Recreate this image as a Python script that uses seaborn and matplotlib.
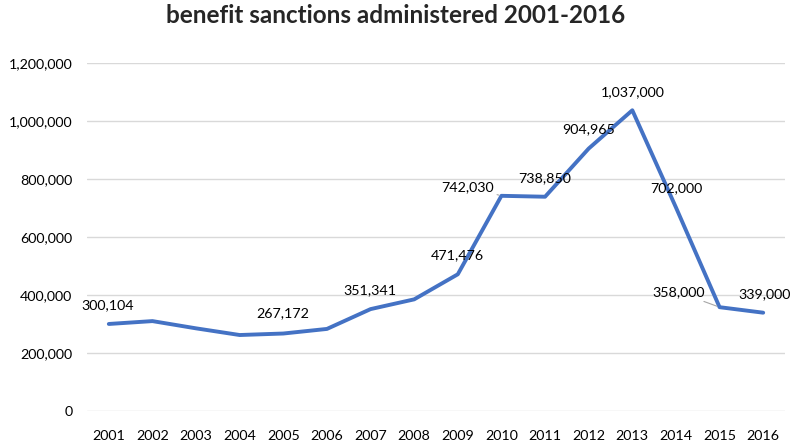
import numpy as np
import pandas as pd
import seaborn as sns
import matplotlib
matplotlib.use('Agg')
import matplotlib.pyplot as plt
from matplotlib.ticker import FuncFormatter

years = ['2001', '2002', '2003', '2004', '2005', '2006', '2007', '2008',
         '2009', '2010', '2011', '2012', '2013', '2014', '2015', '2016']
sanctions = [300104, 310000, 285000, 262000, 267172, 283000, 351341, 385000,
             471476, 742030, 738850, 904965, 1037000, 702000, 358000, 339000]
# only some points carry a label in the original
shown = [True, False, False, False, True, False, True, False,
         True, True, True, True, True, True, True, True]
# label offset from point, in pixels (dx, dy upwards)
label_off = [(-1, 19), (0, 0), (0, 0), (0, 0), (-1, 20), (0, 0), (-1, 19), (0, 0),
             (0, 19), (-34, 9), (0, 19), (0, 19), (0, 18), (0, 19), (-41, 15), (1, 19)]
leader = [False] * 9 + [True] + [False] * 4 + [True, False]

sns.set_theme(style='white')
plt.rcParams['font.family'] = ['Lato', 'DejaVu Sans']

df = pd.DataFrame({'pos': np.arange(len(years)), 'value': sanctions})

fig = plt.figure(figsize=(7.91, 4.44), dpi=100)
ax = fig.add_axes([87 / 791, 33 / 444, 698 / 791, 348 / 444])
sns.lineplot(data=df, x='pos', y='value', ax=ax, color='#4472C4', linewidth=2.8)

ax.set_xlim(-0.5, len(years) - 0.5)
ax.set_ylim(0, 1200000)
ax.set_yticks(np.arange(0, 1200001, 200000))
ax.yaxis.set_major_formatter(FuncFormatter(lambda v, p: f'{int(v):,}'))
ax.set_xticks(df['pos'])
ax.set_xticklabels(years)
ax.grid(axis='y', color='#d9d9d9', linewidth=1)
ax.grid(axis='x', visible=False)
for s in ax.spines.values():
    s.set_visible(False)
ax.tick_params(axis='both', length=0, labelsize=10.3, colors='#000000')
ax.tick_params(axis='y', pad=10.5)
ax.tick_params(axis='x', pad=14)
ax.set_xlabel('')
ax.set_ylabel('')

px = 72 / 100
for i, v in enumerate(sanctions):
    if not shown[i]:
        continue
    dx, dy = label_off[i]
    kw = {}
    if leader[i]:
        kw['arrowprops'] = dict(arrowstyle='-', color='#a6a6a6', lw=0.8, shrinkA=0, shrinkB=2)
    ax.annotate(f'{v:,}', xy=(i, v), xytext=(dx * px, dy * px), textcoords='offset points',
                ha='center', va='center', fontsize=10.3, color='#000000', **kw)

fig.suptitle('benefit sanctions administered 2001-2016', x=0.5, y=0.99, va='top',
             fontsize=17.5, fontweight='bold')

fig.savefig('out.png', dpi=100)
